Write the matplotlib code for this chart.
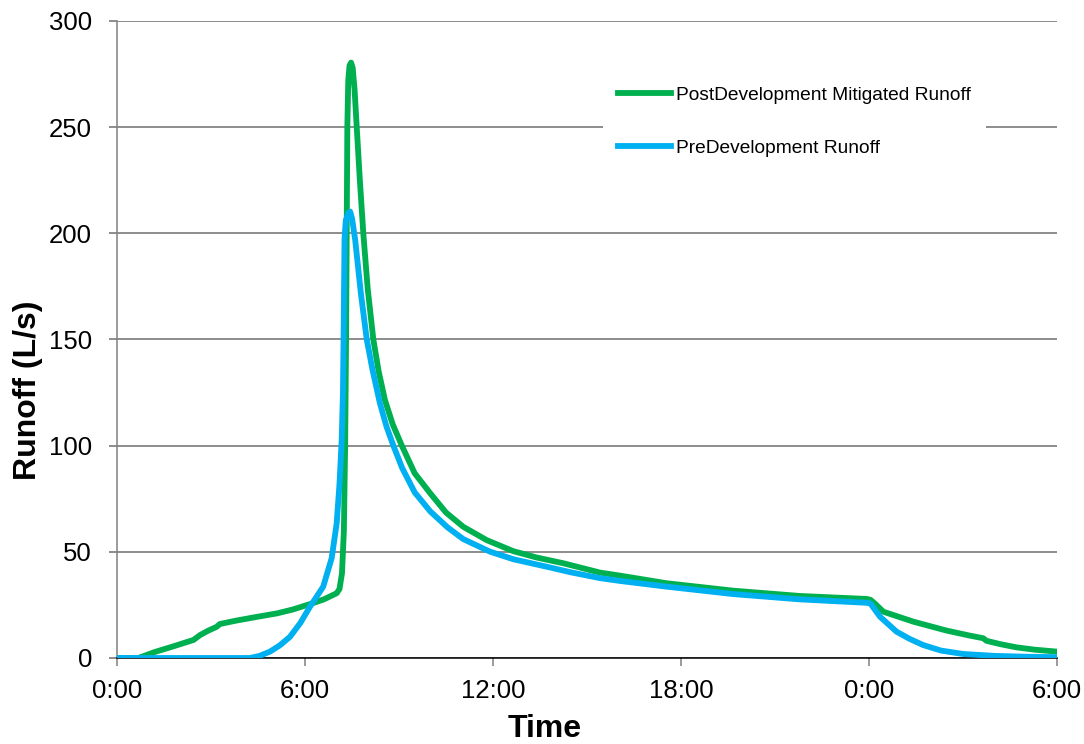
import numpy as np
import matplotlib
matplotlib.use("Agg")
import matplotlib.pyplot as plt

plt.rcParams['font.family'] = ['Liberation Sans', 'DejaVu Sans']

# ── Data (time in hours from 0:00, runoff in L/s) ─────────────────────────
post_t = [0.0, 0.68, 1.2, 1.8, 2.44, 2.65, 2.9, 3.18, 3.28, 3.8, 4.4, 5.1,
          5.6, 6.16, 6.6, 7.01, 7.1, 7.18, 7.24, 7.28, 7.31, 7.33, 7.35,
          7.38, 7.42, 7.47, 7.52, 7.58, 7.65, 7.75, 7.86, 8.0, 8.18, 8.35,
          8.55, 8.8, 9.09, 9.5, 10.0, 10.5, 11.05, 11.8, 12.65, 13.4, 14.25,
          15.42, 16.05, 17.54, 19.67, 21.8, 23.93, 24.05, 24.2, 24.46, 25.42,
          26.48, 27.2, 27.65, 27.75, 28.2, 28.71, 29.3, 30.0]
post_q = [0, 0, 2.8, 5.5, 8.5, 10.8, 12.8, 14.7, 16, 17.6, 19.2, 21,
          22.8, 25.4, 27.6, 30.5, 32.5, 40, 60, 100, 150, 200, 250,
          272, 279, 280.4, 278, 268, 250, 225, 200, 174, 150, 135,
          121.5, 110, 100, 87, 77.5, 68.5, 61.8, 55.5, 50.3, 47.3, 44.6,
          40.2, 38.8, 35.2, 31.7, 29.2, 27.8, 27.4, 25.5, 21.8, 17.1,
          12.9, 10.6, 9.3, 8.1, 6.5, 5.0, 3.9, 3.0]

pre_t = [0.0, 4.24, 4.55, 4.88, 5.2, 5.52, 5.85, 6.16, 6.58, 6.85, 7.01, 7.1,
         7.17, 7.21, 7.23, 7.26, 7.3, 7.38, 7.44, 7.5, 7.6, 7.78, 7.97, 8.15,
         8.39, 8.6, 8.82, 9.1, 9.5, 10.0, 10.55, 11.05, 11.9, 12.65, 13.71,
         14.5, 15.42, 16.05, 17.54, 19.67, 21.8, 23.93, 24.05, 24.35, 24.88,
         25.3, 25.73, 26.3, 27.0, 28.0, 29.0, 30.0]
pre_q = [0, 0, 1, 3, 6, 10, 16.5, 24.2, 33.6, 47, 63.4, 82,
         102.7, 125, 150, 197, 206, 209.5, 210.2, 207, 197, 172, 150, 136,
         120, 109, 100, 89.5, 78, 69, 61.5, 56, 50.1, 46.5, 43,
         40.3, 37.6, 36.3, 33.6, 30.1, 27.6, 26.0, 25.6, 19.5, 12.4,
         9, 6.1, 3.5, 1.9, 1.0, 0.6, 0.4]

x_ticks = [0, 6, 12, 18, 24, 30]
x_labels = ['0:00', '6:00', '12:00', '18:00', '0:00', '6:00']
y_ticks = [0, 50, 100, 150, 200, 250, 300]

GREEN = '#00B050'
BLUE = '#00B0F0'

# ── Plot ──────────────────────────────────────────────────────────────────
fig = plt.figure(figsize=(10.84, 7.44), dpi=100)
ax = fig.add_axes([0.108, 0.1156, 0.867, 0.8562])

ax.plot(post_t, post_q, color=GREEN, linewidth=4.2, solid_joinstyle='round',
        label='PostDevelopment Mitigated Runoff', zorder=3)
ax.plot(pre_t, pre_q, color=BLUE, linewidth=4.2, solid_joinstyle='round',
        label='PreDevelopment Runoff', zorder=4)

ax.set_xlim(0, 30)
ax.set_ylim(0, 300)
ax.set_xticks(x_ticks)
ax.set_xticklabels(x_labels)
ax.set_yticks(y_ticks)

ax.grid(axis='y', color='#6e6e6e', linewidth=1.1)
ax.set_axisbelow(True)
for side in ('top', 'right'):
    ax.spines[side].set_visible(False)
ax.spines['left'].set_color('#808080')
ax.spines['left'].set_linewidth(1.1)
ax.spines['bottom'].set_color('black')
ax.spines['bottom'].set_linewidth(1.1)

ax.tick_params(axis='x', direction='out', length=6, width=1.1, color='#808080',
               labelsize=18.5, pad=9)
ax.tick_params(axis='y', direction='out', length=6, width=1.1, color='#6e6e6e',
               labelsize=18.5, pad=12)

ax.set_xlabel('Time', fontsize=23, fontweight='bold')
ax.set_ylabel('Runoff (L/s)', fontsize=23, fontweight='bold')
ax.xaxis.set_label_coords(0.455, -0.088)
ax.yaxis.set_label_coords(-0.079, 0.42)

leg = ax.legend(loc='upper left', bbox_to_anchor=(0.517, 0.921), fontsize=13.8,
                frameon=True, fancybox=False, handlelength=2.75, handletextpad=0.25,
                labelspacing=1.85, borderpad=0.8, borderaxespad=0)
leg.get_frame().set_facecolor('white')
leg.get_frame().set_edgecolor('none')
leg.get_frame().set_alpha(1.0)

plt.savefig('out.png', dpi=100)
